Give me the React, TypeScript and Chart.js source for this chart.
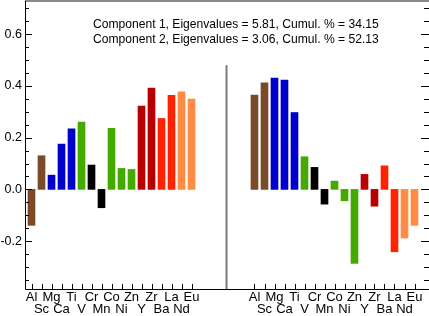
import React, { useEffect, useRef } from 'react';
import { Chart, registerables } from 'chart.js';

Chart.register(...registerables);

const elements = ['Al', 'Sc', 'Mg', 'Ca', 'Ti', 'V', 'Cr', 'Mn', 'Co', 'Ni', 'Zn', 'Y', 'Zr', 'Ba', 'La', 'Nd', 'Eu'];
const component1 = [-0.139, 0.130, 0.055, 0.175, 0.234, 0.260, 0.094, -0.071, 0.236, 0.081, 0.077, 0.322, 0.391, 0.274, 0.363, 0.377, 0.349];
const component2 = [0.364, 0.412, 0.430, 0.422, 0.297, 0.126, 0.085, -0.057, 0.032, -0.044, -0.286, 0.058, -0.065, 0.091, -0.241, -0.188, -0.139];
const elementColors = ['#7b4a28', '#7b4a28', '#0000cc', '#0000cc', '#0000cc', '#44aa00', '#000000', '#000000', '#44aa00', '#44aa00', '#44aa00', '#b80000', '#b80000', '#ff2200', '#ff2200', '#ff8c44', '#ff8c44'];
const yTickValues = [-0.2, 0, 0.2, 0.4, 0.6];
const annotationLines = [
  'Component 1, Eigenvalues = 5.81, Cumul. % = 34.15',
  'Component 2, Eigenvalues = 3.06, Cumul. % = 52.13',
];

// layout constants
const GROUP2_OFFSET = 22.3;
const SEPARATOR_X = 19.5;
const SEPARATOR_TOP = 0.48;
const X_MIN = -0.65;
const X_MAX = 39.75;
const Y_MIN = -0.385;
const Y_MAX = 0.728;
const FONT = '"Liberation Sans", Arial, sans-serif';

const positions1 = elements.map((_, i) => i);
const positions2 = elements.map((_, i) => GROUP2_OFFSET + i);
const allPositions = [...positions1, ...positions2];

const framePlugin = {
  id: 'frame',
  afterDraw(chart: any) {
    const { ctx, chartArea } = chart;
    const xs = chart.scales.x;
    const ys = chart.scales.y;
    const { left, right, top, bottom } = chartArea;
    ctx.save();
    // top gray line
    ctx.strokeStyle = '#8a8a8a';
    ctx.lineWidth = 2;
    ctx.beginPath();
    ctx.moveTo(left, top);
    ctx.lineTo(right, top);
    ctx.stroke();
    // separator
    const sx = xs.getPixelForValue(SEPARATOR_X);
    ctx.strokeStyle = '#7a7a7a';
    ctx.lineWidth = 2;
    ctx.beginPath();
    ctx.moveTo(sx, bottom);
    ctx.lineTo(sx, ys.getPixelForValue(SEPARATOR_TOP));
    ctx.stroke();
    // axes
    ctx.strokeStyle = '#000';
    ctx.lineWidth = 1;
    ctx.beginPath();
    ctx.moveTo(left + 0.5, top);
    ctx.lineTo(left + 0.5, bottom + 0.5);
    ctx.lineTo(right, bottom + 0.5);
    ctx.stroke();
    // y ticks
    ctx.beginPath();
    const step = 0.05;
    for (let k = Math.ceil(ys.min / step); k * step <= ys.max; k++) {
      const v = k * step;
      const y = Math.round(ys.getPixelForValue(v)) + 0.5;
      const major = k % 4 === 0;
      ctx.moveTo(left, y);
      ctx.lineTo(left + (major ? 7 : 4), y);
      ctx.moveTo(right, y);
      ctx.lineTo(right - (major ? 8 : 5), y);
    }
    // x ticks
    allPositions.forEach((p) => {
      const x = Math.round(xs.getPixelForValue(p)) + 0.5;
      ctx.moveTo(x, bottom);
      ctx.lineTo(x, bottom - 5);
    });
    ctx.stroke();
    // annotation
    ctx.fillStyle = '#000';
    ctx.font = `12.1px ${FONT}`;
    ctx.textBaseline = 'alphabetic';
    ctx.textAlign = 'left';
    ctx.fillText(annotationLines[0], 93, 27.7);
    ctx.fillText(annotationLines[1], 93, 43.3);
    ctx.restore();
  },
};

export default function App() {
  const ref = useRef<HTMLCanvasElement>(null);
  useEffect(() => {
    document.body.style.margin = '0';
    const chart = new Chart(ref.current as HTMLCanvasElement, {
      type: 'bar',
      data: {
        datasets: [
          {
            data: component1.map((v, i) => ({ x: positions1[i], y: v })),
            backgroundColor: elementColors,
            barThickness: 7,
            grouped: false,
          } as any,
          {
            data: component2.map((v, i) => ({ x: positions2[i], y: v })),
            backgroundColor: elementColors,
            barThickness: 7,
            grouped: false,
          } as any,
        ],
      },
      options: {
        animation: false,
        responsive: true,
        maintainAspectRatio: false,
        layout: { padding: { top: 1, left: 0, right: 0, bottom: 0 } },
        plugins: { legend: { display: false }, tooltip: { enabled: false } },
        scales: {
          x: {
            type: 'linear',
            offset: false,
            min: X_MIN,
            max: X_MAX,
            grid: { display: false, drawTicks: false, tickLength: 0, offset: false },
            border: { display: false },
            afterBuildTicks: (scale: any) => {
              scale.ticks = allPositions.map((v) => ({ value: v }));
            },
            afterFit: (scale: any) => {
              scale.height = 27;
              scale.paddingLeft = 0;
              scale.paddingRight = 0;
            },
            ticks: {
              autoSkip: false,
              maxRotation: 0,
              minRotation: 0,
              padding: 2.2,
              color: '#000',
              font: { family: FONT, size: 13, lineHeight: 0.95 },
              callback: (_v: any, index: number) => {
                const e = index % elements.length;
                const name = elements[e];
                return e % 2 === 0 ? [name] : ['', name];
              },
            },
          },
          y: {
            type: 'linear',
            min: Y_MIN,
            max: Y_MAX,
            grid: { display: false, drawTicks: false, tickLength: 0 },
            border: { display: false },
            afterBuildTicks: (scale: any) => {
              scale.ticks = yTickValues.map((v) => ({ value: v }));
            },
            afterFit: (scale: any) => {
              scale.width = 25;
              scale.paddingTop = 0;
              scale.paddingBottom = 0;
            },
            ticks: {
              padding: 3,
              color: '#000',
              font: { family: FONT, size: 12.5 },
              callback: (v: any) => Number(v).toFixed(1),
            },
          },
        },
      },
      plugins: [framePlugin],
    });
    return () => chart.destroy();
  }, []);
  return (
    <div style={{ width: 429, height: 316, position: 'relative' }}>
      <canvas ref={ref} />
    </div>
  );
}
